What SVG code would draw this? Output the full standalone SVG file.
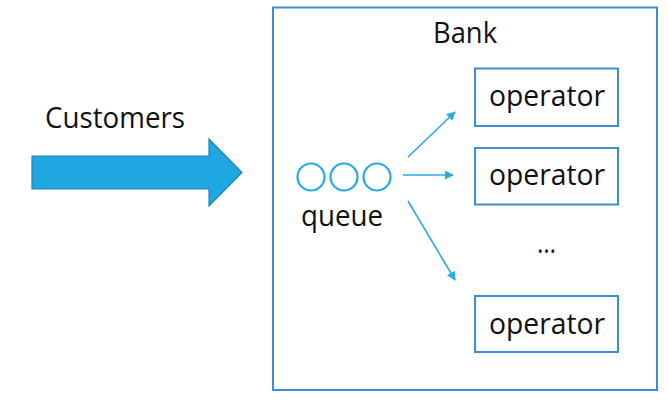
<svg xmlns="http://www.w3.org/2000/svg" width="668" height="400" viewBox="0 0 668 400">
<style>
.lbl{font-family:"Open Sans","Liberation Sans",sans-serif;font-size:29.5px;fill:#111}
.box{fill:#fff;stroke:#3e8ed6;stroke-width:2}
.q{fill:none;stroke:#29aae1;stroke-width:2.2}
.con{stroke:#29aae1;stroke-width:1.6;fill:none;marker-end:url(#ah)}
</style>
<defs>
<marker id="ah" viewBox="0 0 10 10" refX="9" refY="5" markerWidth="9" markerHeight="9" markerUnits="userSpaceOnUse" orient="auto">
<path d="M0,0 L10,5 L0,10 z" fill="#29aae1"/>
</marker>
</defs>
<rect width="668" height="400" fill="#fff"/>
<g id="customers">
<polygon points="32,156 209,156 209,139 242,172.5 209,206 209,189 32,189" fill="#1ea7e1" stroke="#1b86b9" stroke-width="1.2"/>
<text class="lbl" x="45" y="128" textLength="140" lengthAdjust="spacingAndGlyphs">Customers</text>
</g>
<g id="bank">
<rect class="box" x="273" y="7.5" width="384" height="382.5"/>
<text class="lbl" x="433" y="43" textLength="64" lengthAdjust="spacingAndGlyphs">Bank</text>
</g>
<g id="queue">
<circle class="q" cx="311" cy="177" r="13.5"/>
<circle class="q" cx="344" cy="177" r="13.5"/>
<circle class="q" cx="377" cy="177" r="13.5"/>
<text class="lbl" x="301" y="226" textLength="82" lengthAdjust="spacingAndGlyphs">queue</text>
</g>
<g id="operator1">
<rect class="box" x="475" y="68.5" width="143" height="57.5"/>
<text class="lbl" x="489" y="106" textLength="116" lengthAdjust="spacingAndGlyphs">operator</text>
</g>
<g id="operator2">
<rect class="box" x="475" y="148" width="143" height="56.5"/>
<text class="lbl" x="489" y="185" textLength="116" lengthAdjust="spacingAndGlyphs">operator</text>
</g>
<g id="ellipsis">
<text class="lbl" x="537" y="253" textLength="19" lengthAdjust="spacingAndGlyphs">…</text>
</g>
<g id="operator3">
<rect class="box" x="475" y="296" width="143" height="56"/>
<text class="lbl" x="489" y="334" textLength="116" lengthAdjust="spacingAndGlyphs">operator</text>
</g>
<g id="connectors">
<line class="con" x1="408" y1="157" x2="455" y2="112"/>
<line class="con" x1="403" y1="175" x2="453" y2="175"/>
<line class="con" x1="408" y1="201" x2="455" y2="280"/>
</g>
</svg>
